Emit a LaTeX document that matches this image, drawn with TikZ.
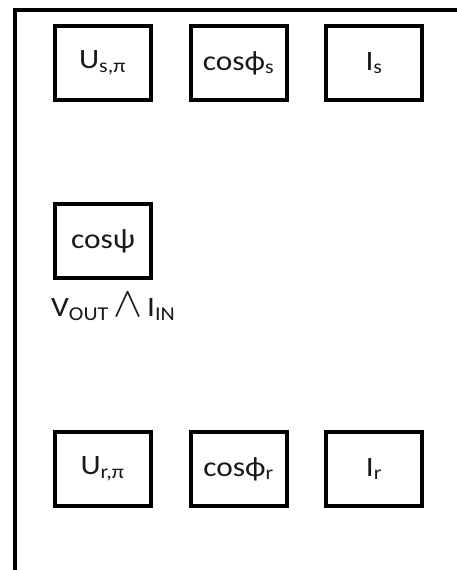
\documentclass[tikz,border=0pt]{standalone}
\usepackage{fontspec}
\usepackage{graphicx}
\setmainfont{Carlito}[FakeStretch=1.12]
\begin{document}
\begin{tikzpicture}[x=1pt,y=-1pt,
  varbox/.style={draw=black,line width=4pt,minimum width=96pt,minimum height=74pt,
    inner sep=0pt,font=\fontsize{28}{32}\selectfont,text=black!90},
  frameline/.style={line width=4pt,black}]
\useasboundingbox (0,0) rectangle (457,570);
\fill[white] (0,0) rectangle (457,570);
\coordinate (ftop) at (457,9.5);
\coordinate (fcorner) at (15.3,9.5);
\coordinate (fbot) at (15.3,570);
\draw[frameline] (ftop) -- (fcorner) -- (fbot);
\node[varbox] (us) at (102.5,63) {U\textsubscript{s,π}};
\node[varbox] (cs) at (238.5,63) {cosϕ\textsubscript{s}};
\node[varbox] (is) at (374,63) {I\textsubscript{s}};
\node[varbox] (cpsi) at (103,241) {cosψ};
\node[anchor=west,inner sep=0pt,font=\fontsize{28}{32}\selectfont,text=black!90] (vl) at (51,307)
  {V\textsubscript{OUT}\,\raisebox{-0.5pt}{\scalebox{1.75}[1.7]{$\wedge$}}\,I\textsubscript{IN}};
\node[varbox] (ur) at (102.5,469) {U\textsubscript{r,π}};
\node[varbox] (cr) at (238.5,469) {cosϕ\textsubscript{r}};
\node[varbox] (ir) at (374,469) {I\textsubscript{r}};
\end{tikzpicture}
\end{document}
